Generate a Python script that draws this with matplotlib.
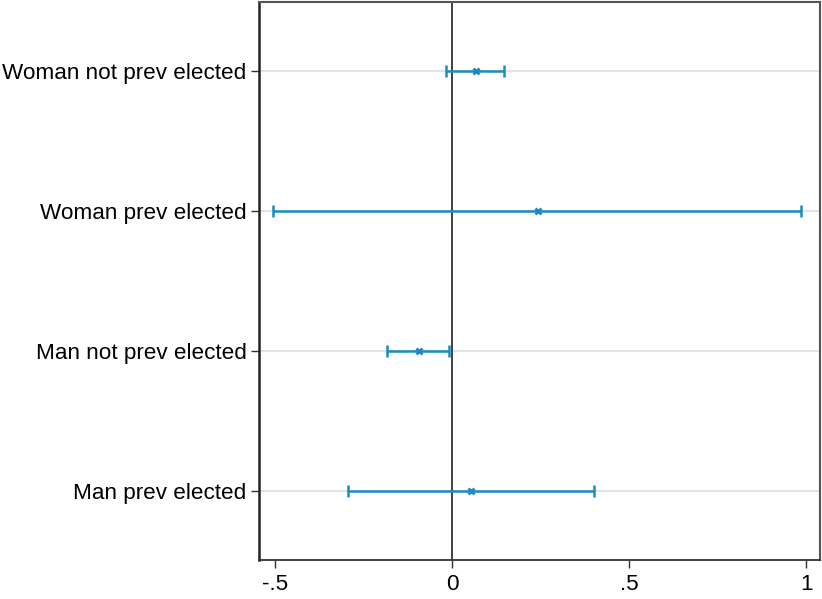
import numpy as np
import matplotlib
matplotlib.use("Agg")
import matplotlib.pyplot as plt

plt.rcParams["font.family"] = ["Liberation Sans", "DejaVu Sans"]

categorias = ["Man prev elected", "Man not prev elected",
              "Woman prev elected", "Woman not prev elected"]
coef = [0.054, -0.093, 0.243, 0.068]
ci_lo = [-0.294, -0.184, -0.506, -0.017]
ci_hi = [0.401, -0.008, 0.986, 0.147]
xticks = [-0.5, 0, 0.5, 1]
xtick_labels = ["-.5", "0", ".5", "1"]

azul = "#1a8cc0"
pos = np.arange(1, len(categorias) + 1)

fig = plt.figure(figsize=(8.22, 5.99), dpi=100)
ax = fig.add_axes([0.315, 0.065, 0.683, 0.932])

for y in pos:
    ax.axhline(y, color="#e3e3e3", linewidth=1.5, zorder=1)
ax.axvline(0, color="#333333", linewidth=1.3, zorder=2)

coef = np.array(coef)
err = np.vstack([coef - np.array(ci_lo), np.array(ci_hi) - coef])
ax.errorbar(coef, pos, xerr=err, fmt="none", ecolor=azul, elinewidth=1.8,
            capsize=4.5, capthick=1.8, zorder=3)
ax.plot(coef, pos, "x", color=azul, markersize=5, markeredgewidth=2, zorder=4)

ax.set_xlim(-0.545, 1.04)
ax.set_ylim(0.507, 4.493)
ax.set_xticks(xticks)
ax.set_xticklabels(xtick_labels)
ax.set_yticks(pos)
ax.set_yticklabels(categorias)
ax.tick_params(axis="both", labelsize=16.2, length=6, width=1, color="#333333")
ax.tick_params(axis="y", pad=3)
ax.tick_params(axis="x", pad=4)

for lado in ["top", "right"]:
    ax.spines[lado].set_color("#555555")
    ax.spines[lado].set_linewidth(1.5)
ax.spines["left"].set_color("#222222")
ax.spines["left"].set_linewidth(1.8)
ax.spines["bottom"].set_color("#333333")
ax.spines["bottom"].set_linewidth(1.3)

fig.savefig("out.png", dpi=100)
